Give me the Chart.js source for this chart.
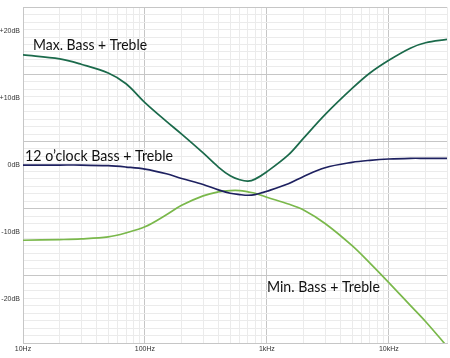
<!DOCTYPE html>
<html>
<head>
<meta charset="utf-8">
<script src="https://cdn.jsdelivr.net/npm/chart.js@4"></script>
<style>
  html, body { margin: 0; padding: 0; background: #fff; }
  #wrap { width: 450px; height: 358px; }
</style>
</head>
<body>
<div id="wrap"><canvas id="eq" width="450" height="358"></canvas></div>
<script>
// ---------- DATA ----------
const freqs    = [10, 20, 30, 50, 70, 100, 150, 200, 300, 400, 500, 600, 700, 800, 1000, 1500, 2000, 3000, 5000, 7000, 10000, 15000, 20000, 30000];
const maxBT    = [16.4, 15.8, 15.0, 13.7, 12.1, 9.3, 6.5, 4.6, 1.8, -0.3, -1.6, -2.2, -2.4, -2.1, -1.0, 1.5, 4.0, 7.5, 11.4, 13.7, 15.6, 17.4, 18.2, 18.7];
const noonBT   = [0, 0, 0, -0.1, -0.3, -0.6, -1.3, -2.0, -2.9, -3.7, -4.2, -4.4, -4.5, -4.4, -3.9, -2.8, -1.7, -0.4, 0.4, 0.7, 0.9, 1.0, 1.0, 1.0];
const minBT    = [-11.2, -11.1, -11.0, -10.7, -10.1, -9.2, -7.4, -6.0, -4.6, -4.0, -3.8, -3.8, -4.0, -4.2, -4.8, -5.8, -6.7, -8.7, -12.0, -14.6, -17.5, -20.9, -23.3, -27.0];

const seriesNames = ["Max. Bass + Treble", "12 o\u2019clock Bass + Treble", "Min. Bass + Treble"];
// where each curve name sits (Hz, dB at text baseline)
const nameFreq = [12.1, 10.4, 1000];
const nameDb   = [17.1, 0.6, -18.9];

const yLabelVals = [20, 10, 0, -10, -20];
const xLabelVals = [10, 100, 1000, 10000];
const xLabels    = ["10Hz", "100Hz", "1kHz", "10kHz"];

// ---------- helpers ----------
function pts(vals) {
    return freqs.map((f, i) => ({ x: f, y: vals[i] }));
}
function yLabel(v) {
    if (v > 0) return "+" + v + "dB";
    return v + "dB";
}

const darkGrid = "#c6c6c6";
const lightGrid = "#ebebeb";

// ---------- curve names drawn on the plot ----------
const curveNames = {
    id: 'curveNames',
    afterDatasetsDraw(chart) {
        const { ctx, scales } = chart;
        ctx.save();
        ctx.fillStyle = "#111";
        ctx.font = "16px Lato";
        ctx.textBaseline = "alphabetic";
        ctx.textAlign = "left";
        const widths = [114, 148, 113];
        seriesNames.forEach((name, i) => {
            const x = scales.x.getPixelForValue(nameFreq[i]);
            const y = scales.y.getPixelForValue(nameDb[i]);
            ctx.fillText(name, x, y, widths[i]);
        });
        ctx.restore();
    }
};

// ---------- CHART ----------
new Chart(document.getElementById("eq"), {
    type: 'line',
    data: {
        datasets: [
            { label: seriesNames[0], data: pts(maxBT),  borderColor: "#1b6a4b" },
            { label: seriesNames[1], data: pts(noonBT), borderColor: "#1e2160" },
            { label: seriesNames[2], data: pts(minBT),  borderColor: "#7ab84b" }
        ]
    },
    options: {
        responsive: false,
        animation: false,
        parsing: false,
        layout: { padding: { top: 4, right: 3, left: 0, bottom: 0 } },
        elements: {
            line: { borderWidth: 1.7, tension: 0.35 },
            point: { radius: 0 }
        },
        plugins: {
            legend: { display: false },
            tooltip: { enabled: false }
        },
        scales: {
            x: {
                type: 'logarithmic',
                min: 10,
                max: 30000,
                afterBuildTicks: (scale) => {
                    const t = [];
                    for (let d = 10; d <= 10000; d *= 10) {
                        for (let k = 1; k <= 9; k++) {
                            if (d * k <= 30000) t.push({ value: d * k });
                        }
                    }
                    scale.ticks = t;
                },
                afterFit: (scale) => { scale.height = 15; },
                ticks: {
                    autoSkip: false,
                    maxRotation: 0,
                    padding: 2,
                    color: "#333",
                    font: { size: 7, family: 'Liberation Sans' },
                    callback: (value) => {
                        const i = xLabelVals.indexOf(value);
                        return i >= 0 ? xLabels[i] : '';
                    }
                },
                grid: {
                    drawTicks: false,
                    color: (c) => {
                        const v = c.tick ? c.tick.value : 0;
                        return xLabelVals.indexOf(v) >= 0 ? darkGrid : lightGrid;
                    }
                },
                border: { color: darkGrid }
            },
            y: {
                type: 'linear',
                min: -26.5,
                max: 23.5,
                afterBuildTicks: (scale) => {
                    const t = [];
                    for (let m = -26.5; m < 23.5; m += 10) {
                        for (let k = 0; k < 9; k++) {
                            t.push({ value: m + k * 10 / 9, major: k === 0 });
                        }
                    }
                    t.push({ value: 23.5, major: true });
                    yLabelVals.forEach(v => t.push({ value: v, lab: true }));
                    t.sort((a, b) => a.value - b.value);
                    scale.ticks = t;
                },
                afterFit: (scale) => { scale.width = 23; },
                ticks: {
                    autoSkip: false,
                    padding: 3,
                    color: "#333",
                    font: { size: 7, family: 'Liberation Sans' },
                    callback: (value) => yLabelVals.indexOf(value) >= 0 ? yLabel(value) : ''
                },
                grid: {
                    drawTicks: false,
                    color: (c) => {
                        if (!c.tick) return lightGrid;
                        if (c.tick.lab) return 'rgba(0,0,0,0)';
                        return c.tick.major ? darkGrid : lightGrid;
                    }
                },
                border: { color: darkGrid }
            }
        }
    },
    plugins: [curveNames]
});
</script>
</body>
</html>
